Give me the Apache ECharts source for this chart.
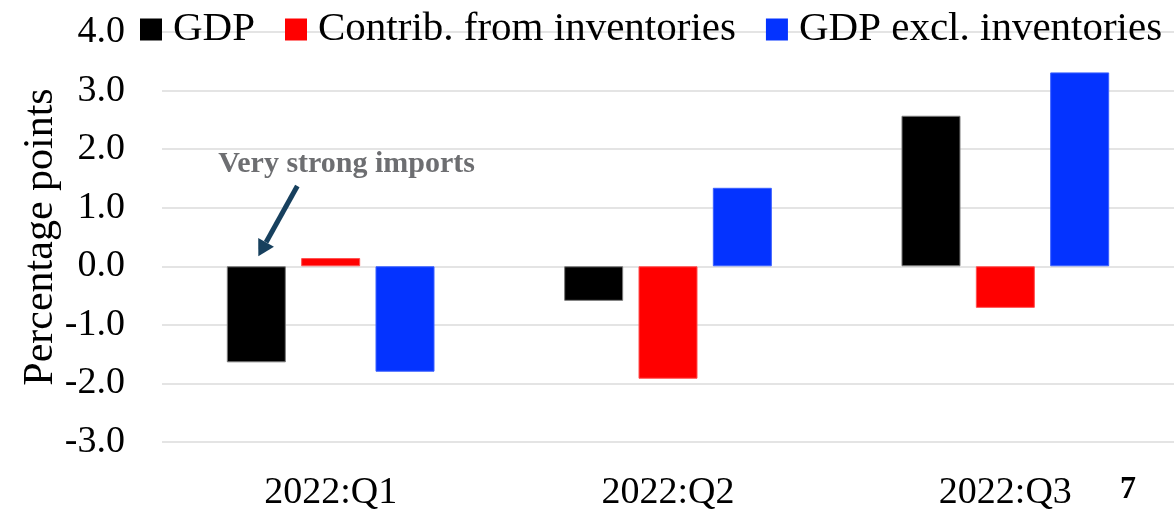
<!DOCTYPE html>
<html>
<head>
<meta charset="utf-8">
<script src="https://cdn.jsdelivr.net/npm/echarts@6/dist/echarts.min.js"></script>
<style>
html,body{margin:0;padding:0;background:#fff;}
#main{width:1174px;height:512px;}
</style>
</head>
<body>
<div id="main"></div>
<script>
const categories = ['2022:Q1', '2022:Q2', '2022:Q3'];
const gdp = [-1.64, -0.59, 2.57];
const inventories = [0.14, -1.92, -0.71];
const gdpExclInventories = [-1.80, 1.34, 3.31];
const seriesNames = ['GDP', 'Contrib. from inventories', 'GDP excl. inventories'];
const yTicks = { min: -3, max: 4, interval: 1 };
const annotationText = 'Very strong imports';
const pageNumber = '7';

const FONT = '"Liberation Serif", "DejaVu Serif", serif';
const chart = echarts.init(document.getElementById('main'), null, { renderer: 'canvas' });

const option = {
  backgroundColor: '#ffffff',
  animation: false,
  textStyle: { fontFamily: FONT },
  grid: { left: 162, right: 0, top: 32, bottom: 69, containLabel: false },
  legend: {
    left: 135, top: 4,
    icon: 'rect', itemWidth: 22, itemHeight: 22, itemGap: 30,
    itemStyle: { borderWidth: 0 },
    textStyle: { fontFamily: FONT, fontSize: 41, color: '#000', padding: [0, 0, 0, 6] },
    data: seriesNames
  },
  xAxis: {
    type: 'category', data: categories,
    axisLine: { show: false, onZero: false }, axisTick: { show: false },
    axisLabel: { fontFamily: FONT, fontSize: 38, color: '#000', margin: 32 }
  },
  yAxis: {
    type: 'value', min: yTicks.min, max: yTicks.max, interval: yTicks.interval,
    name: 'Percentage points', nameLocation: 'middle', nameGap: 100, nameRotate: 90,
    nameMoveOverlap: false,
    nameTextStyle: { fontFamily: FONT, fontSize: 42, color: '#000' },
    axisLine: { show: false }, axisTick: { show: false },
    axisLabel: { fontFamily: FONT, fontSize: 38, color: '#000', margin: 37, formatter: v => v.toFixed(1) },
    splitLine: { lineStyle: { color: '#e4e4e4', width: 2 } }
  },
  series: [
    { name: seriesNames[0], type: 'bar', data: gdp, barWidth: 59, barGap: '26%',
      itemStyle: { color: '#000000', borderColor: '#7a7a7a', borderWidth: 1 } },
    { name: seriesNames[1], type: 'bar', data: inventories, barWidth: 59, barGap: '26%',
      itemStyle: { color: '#ff0000', borderColor: '#ff5050', borderWidth: 1 } },
    { name: seriesNames[2], type: 'bar', data: gdpExclInventories, barWidth: 59, barGap: '26%',
      itemStyle: { color: '#0433ff', borderColor: '#3a60ff', borderWidth: 1 } }
  ]
};
chart.setOption(option);

// Annotation anchored on the Q1 GDP bar
function addAnnotation() {
  let layout = null;
  try {
    layout = chart.getModel().getSeriesByIndex(0).getData().getItemLayout(0);
  } catch (e) { layout = null; }
  const zero = chart.convertToPixel({ yAxisIndex: 0 }, 0);
  const grpCenter = chart.convertToPixel({ xAxisIndex: 0 }, categories[0]);
  const barCx = layout ? layout.x + layout.width / 2 : grpCenter - 74.5;
  const tipX = barCx + 2, tipY = zero - 10;
  const startX = barCx + 41, startY = chart.convertToPixel({ yAxisIndex: 0 }, 1.37);
  const ang = Math.atan2(tipY - startY, tipX - startX);
  const hl = 16, hw = 9;
  const bx = tipX - hl * Math.cos(ang), by = tipY - hl * Math.sin(ang);
  const px = -Math.sin(ang), py = Math.cos(ang);
  const textY = chart.convertToPixel({ yAxisIndex: 0 }, 1.74);
  chart.setOption({
    graphic: [
      { type: 'line', shape: { x1: startX, y1: startY, x2: bx, y2: by },
        style: { stroke: '#17405e', lineWidth: 5 }, z: 10 },
      { type: 'polygon', shape: { points: [[tipX, tipY], [bx + px * hw, by + py * hw], [bx - px * hw, by - py * hw]] },
        style: { fill: '#17405e' }, z: 10 },
      { type: 'text', x: grpCenter + 16, y: textY,
        style: { text: annotationText, font: 'bold 30px ' + FONT, fill: '#6d6e71', align: 'center', verticalAlign: 'middle' }, z: 10 },
      { type: 'text', x: 1128, y: 490,
        style: { text: pageNumber, font: 'bold 32px ' + FONT, fill: '#000', align: 'center', verticalAlign: 'middle' }, z: 10 }
    ]
  });
}
addAnnotation();
</script>
</body>
</html>
